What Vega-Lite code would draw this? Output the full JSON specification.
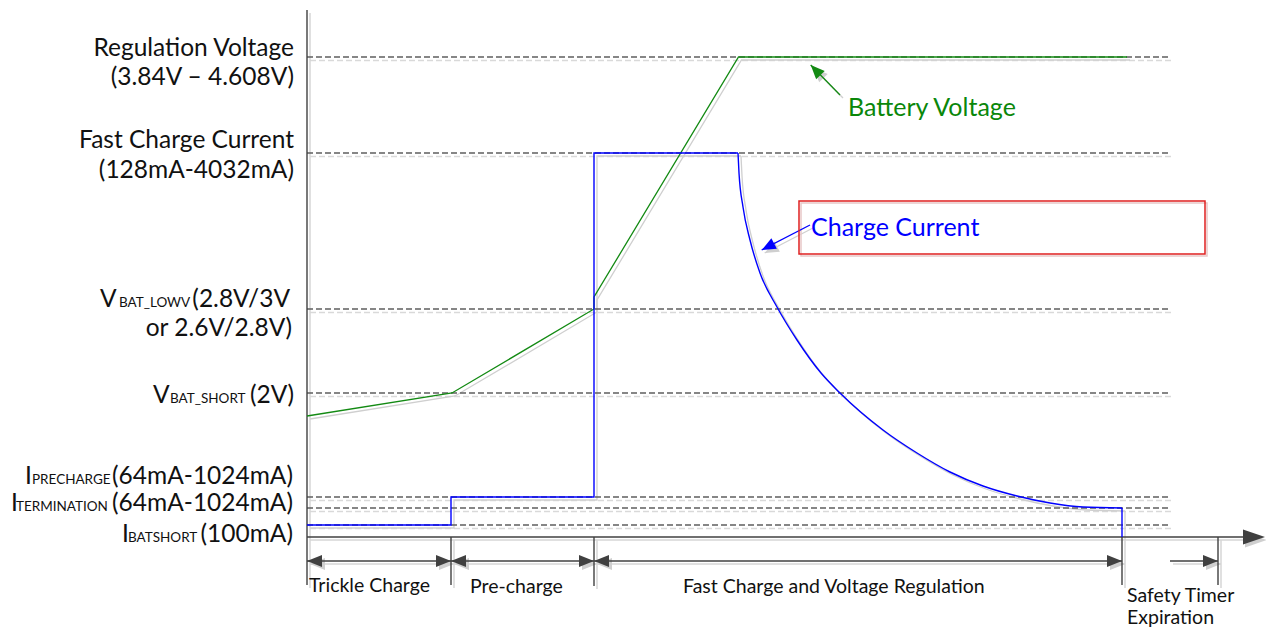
{
  "$schema": "https://vega.github.io/schema/vega-lite/v6.json",
  "width": 1266,
  "height": 629,
  "autosize": {"type": "none"},
  "padding": 0,
  "background": "white",
  "config": {"view": {"stroke": null}, "text": {"font": "Lato"}},
  "datasets": {
    "levels": [
      {"name": "Regulation Voltage", "t": 0, "t2": 861, "v": 480},
      {"name": "Fast Charge Current", "t": 0, "t2": 861, "v": 384},
      {"name": "VBAT_LOWV", "t": 0, "t2": 861, "v": 228},
      {"name": "VBAT_SHORT", "t": 0, "t2": 861, "v": 144},
      {"name": "IPRECHARGE", "t": 0, "t2": 861, "v": 40},
      {"name": "ITERMINATION", "t": 0, "t2": 861, "v": 29},
      {"name": "IBATSHORT", "t": 0, "t2": 861, "v": 12}
    ],
    "voltage": [
      {"i": 0, "t": 0, "v": 121},
      {"i": 1, "t": 145, "v": 144},
      {"i": 2, "t": 287, "v": 228},
      {"i": 3, "t": 287, "v": 240},
      {"i": 4, "t": 431.5, "v": 480},
      {"i": 5, "t": 820, "v": 480}
    ],
    "current": [
      {"part": "step", "i": 0, "t": 0, "v": 12},
      {"part": "step", "i": 1, "t": 144, "v": 12},
      {"part": "step", "i": 2, "t": 144, "v": 40},
      {"part": "step", "i": 3, "t": 287, "v": 40},
      {"part": "step", "i": 4, "t": 287, "v": 384},
      {"part": "step", "i": 5, "t": 431, "v": 384},
      {"part": "curve", "i": 6, "t": 431, "v": 384},
      {"part": "curve", "i": 7, "t": 432, "v": 364},
      {"part": "curve", "i": 8, "t": 436, "v": 330},
      {"part": "curve", "i": 9, "t": 443, "v": 297},
      {"part": "curve", "i": 10, "t": 453, "v": 264},
      {"part": "curve", "i": 11, "t": 470, "v": 230},
      {"part": "curve", "i": 12, "t": 490, "v": 197},
      {"part": "curve", "i": 13, "t": 514, "v": 164},
      {"part": "curve", "i": 14, "t": 533, "v": 144},
      {"part": "curve", "i": 15, "t": 576, "v": 107},
      {"part": "curve", "i": 16, "t": 610, "v": 84},
      {"part": "curve", "i": 17, "t": 643, "v": 65},
      {"part": "curve", "i": 18, "t": 676, "v": 51},
      {"part": "curve", "i": 19, "t": 710, "v": 41},
      {"part": "curve", "i": 20, "t": 743, "v": 34},
      {"part": "curve", "i": 21, "t": 776, "v": 30},
      {"part": "curve", "i": 22, "t": 815, "v": 29},
      {"part": "drop", "i": 23, "t": 815, "v": 29},
      {"part": "drop", "i": 24, "t": 815, "v": 0}
    ],
    "ticks": [
      {"t": 0, "v": 527, "v2": -48},
      {"t": 144, "v": 0, "v2": -48},
      {"t": 287, "v": 0, "v2": -49},
      {"t": 815, "v": 0, "v2": -48},
      {"t": 911, "v": 0, "v2": -48}
    ],
    "haxis": [{"t": 0, "t2": 940, "v": 0}],
    "haxisHead": [{"t": 958, "v": 0}],
    "dims": [
      {"t": 0, "t2": 144, "v": -24},
      {"t": 144, "t2": 287, "v": -24},
      {"t": 287, "t2": 815, "v": -24},
      {"t": 863, "t2": 911, "v": -24}
    ],
    "headsRight": [
      {"t": 144, "v": -24},
      {"t": 287, "v": -24},
      {"t": 815, "v": -24},
      {"t": 911, "v": -24}
    ],
    "headsLeft": [
      {"t": 0, "v": -24},
      {"t": 144, "v": -24},
      {"t": 287, "v": -24}
    ],
    "greenCallout": [{"t": 503.7, "v": 472, "t2": 533, "v2": 442}],
    "blueCallout": [{"t": 454.7, "v": 287, "t2": 503, "v2": 312}],
    "box": [{"t": 492, "t2": 898, "v": 336, "v2": 283}],
    "bigLabels": [
      {"text": "Regulation Voltage", "t": -13, "v": 481},
      {"text": "(3.84V – 4.608V)", "t": -13, "v": 452},
      {"text": "Fast Charge Current", "t": -13, "v": 389},
      {"text": "(128mA-4032mA)", "t": -13, "v": 359},
      {"text": "(2.8V/3V", "t": -17, "v": 230},
      {"text": "or 2.6V/2.8V)", "t": -15, "v": 201},
      {"text": "(2V)", "t": -13, "v": 134},
      {"text": "(64mA-1024mA)", "t": -14, "v": 53},
      {"text": "(64mA-1024mA)", "t": -14, "v": 26},
      {"text": "(100mA)", "t": -14, "v": -5}
    ],
    "bigLetters": [
      {"text": "V", "t": -207, "v": 230},
      {"text": "V", "t": -154, "v": 134},
      {"text": "I", "t": -282, "v": 53},
      {"text": "I", "t": -296, "v": 26},
      {"text": "I", "t": -185, "v": -5}
    ],
    "subLabels": [
      {"text": "BAT_LOWV", "t": -188, "v": 230},
      {"text": "BAT_SHORT", "t": -137, "v": 134},
      {"text": "PRECHARGE", "t": -275, "v": 53},
      {"text": "TERMINATION", "t": -291, "v": 26},
      {"text": "BATSHORT", "t": -179, "v": -5}
    ],
    "bottomLabels": [
      {"text": "Trickle Charge", "t": 2, "v": -55},
      {"text": "Pre-charge", "t": 163, "v": -56},
      {"text": "Fast Charge and Voltage Regulation", "t": 376, "v": -56},
      {"text": "Safety Timer", "t": 820, "v": -65},
      {"text": "Expiration", "t": 820, "v": -87}
    ],
    "greenText": [{"text": "Battery Voltage", "t": 541, "v": 421}],
    "blueText": [{"text": "Charge Current", "t": 504, "v": 301}]
  },
  "encoding": {
    "x": {"field": "t", "type": "quantitative", "scale": {"domain": [-307, 959], "nice": false, "zero": false}, "axis": null},
    "y": {"field": "v", "type": "quantitative", "scale": {"domain": [-92, 537], "nice": false, "zero": false}, "axis": null}
  },
  "layer": [
    {"data": {"name": "levels"}, "mark": {"type": "rule", "color": "#d9d9d9", "strokeWidth": 1.3, "strokeDash": [6, 3], "xOffset": 3, "x2Offset": 3, "yOffset": 3.5}, "encoding": {"x2": {"field": "t2"}}},
    {"data": {"name": "ticks"}, "mark": {"type": "rule", "color": "#d6d6d6", "strokeWidth": 1.5, "xOffset": 3, "yOffset": 3, "y2Offset": 3}, "encoding": {"y2": {"field": "v2"}}},
    {"data": {"name": "haxis"}, "mark": {"type": "rule", "color": "#d6d6d6", "strokeWidth": 1.5, "xOffset": 3, "x2Offset": 3, "yOffset": 3}, "encoding": {"x2": {"field": "t2"}}},
    {"data": {"name": "dims"}, "mark": {"type": "rule", "color": "#d6d6d6", "strokeWidth": 1.3, "xOffset": 3, "x2Offset": 3, "yOffset": 3}, "encoding": {"x2": {"field": "t2"}}},
    {"data": {"name": "voltage"}, "mark": {"type": "line", "color": "#cfcfcf", "strokeWidth": 1.3, "xOffset": 3, "yOffset": 3}, "encoding": {"order": {"field": "i"}}},
    {"data": {"name": "current"}, "transform": [{"filter": "datum.part !== 'curve'"}], "mark": {"type": "line", "color": "#cfcfcf", "strokeWidth": 1.3, "xOffset": 3, "yOffset": 3}, "encoding": {"order": {"field": "i"}, "detail": {"field": "part"}}},
    {"data": {"name": "current"}, "transform": [{"filter": "datum.part === 'curve'"}], "mark": {"type": "line", "color": "#cfcfcf", "strokeWidth": 1.3, "interpolate": "monotone", "xOffset": 3, "yOffset": 3}, "encoding": {"order": {"field": "i"}}},
    {"data": {"name": "greenCallout"}, "mark": {"type": "rule", "color": "#d0d0d0", "strokeWidth": 1.3, "xOffset": 3, "x2Offset": 3, "yOffset": 3, "y2Offset": 3}, "encoding": {"x2": {"field": "t2"}, "y2": {"field": "v2"}}},
    {"data": {"name": "blueCallout"}, "mark": {"type": "rule", "color": "#d0d0d0", "strokeWidth": 1.3, "xOffset": 3, "x2Offset": 3, "yOffset": 3, "y2Offset": 3}, "encoding": {"x2": {"field": "t2"}, "y2": {"field": "v2"}}},
    {"data": {"name": "box"}, "mark": {"type": "rect", "fillOpacity": 0, "stroke": "#e8c8c8", "strokeWidth": 1.5, "xOffset": 2, "x2Offset": 2, "yOffset": 2, "y2Offset": 2}, "encoding": {"x2": {"field": "t2"}, "y2": {"field": "v2"}}},
    {"data": {"name": "headsRight"}, "mark": {"type": "point", "filled": true, "color": "#cfcfcf", "opacity": 1, "shape": "M0,0L-2,-0.8L-2,0.8Z", "size": 225, "strokeWidth": 0, "xOffset": 3, "yOffset": 3}},
    {"data": {"name": "headsLeft"}, "mark": {"type": "point", "filled": true, "color": "#cfcfcf", "opacity": 1, "shape": "M0,0L2,-0.8L2,0.8Z", "size": 225, "strokeWidth": 0, "xOffset": 3, "yOffset": 3}},
    {"data": {"name": "haxisHead"}, "mark": {"type": "point", "filled": true, "color": "#cfcfcf", "opacity": 1, "shape": "M0,0L-2,-0.68L-2,0.68Z", "size": 484, "strokeWidth": 0, "xOffset": 2, "yOffset": 3}},
    {"data": {"name": "greenCallout"}, "mark": {"type": "point", "filled": true, "color": "#cfcfcf", "opacity": 1, "shape": "M0,0L-2,-0.85L-2,0.85Z", "size": 196, "angle": 226, "strokeWidth": 0, "xOffset": 3, "yOffset": 3}},
    {"data": {"name": "blueCallout"}, "mark": {"type": "point", "filled": true, "color": "#cfcfcf", "opacity": 1, "shape": "M0,0L-2,-0.85L-2,0.85Z", "size": 196, "angle": 152.6, "strokeWidth": 0, "xOffset": 3, "yOffset": 3}},

    {"data": {"name": "levels"}, "mark": {"type": "rule", "color": "#5f5f5f", "strokeWidth": 1.3, "strokeDash": [6, 3]}, "encoding": {"x2": {"field": "t2"}}},
    {"data": {"name": "ticks"}, "mark": {"type": "rule", "color": "#404040", "strokeWidth": 1.4}, "encoding": {"y2": {"field": "v2"}}},
    {"data": {"name": "haxis"}, "mark": {"type": "rule", "color": "#404040", "strokeWidth": 1.5}, "encoding": {"x2": {"field": "t2"}}},
    {"data": {"name": "dims"}, "mark": {"type": "rule", "color": "#404040", "strokeWidth": 1.3}, "encoding": {"x2": {"field": "t2"}}},
    {"data": {"name": "headsRight"}, "mark": {"type": "point", "filled": true, "color": "#404040", "opacity": 1, "shape": "M0,0L-2,-0.8L-2,0.8Z", "size": 225, "strokeWidth": 0}},
    {"data": {"name": "headsLeft"}, "mark": {"type": "point", "filled": true, "color": "#404040", "opacity": 1, "shape": "M0,0L2,-0.8L2,0.8Z", "size": 225, "strokeWidth": 0}},
    {"data": {"name": "haxisHead"}, "mark": {"type": "point", "filled": true, "color": "#404040", "opacity": 1, "shape": "M0,0L-2,-0.68L-2,0.68Z", "size": 484, "strokeWidth": 0}},
    {"data": {"name": "voltage"}, "mark": {"type": "line", "color": "#138a13", "strokeWidth": 1.3}, "encoding": {"order": {"field": "i"}}},
    {"data": {"name": "current"}, "transform": [{"filter": "datum.part !== 'curve'"}], "mark": {"type": "line", "color": "#0000ff", "strokeWidth": 1.4}, "encoding": {"order": {"field": "i"}, "detail": {"field": "part"}}},
    {"data": {"name": "current"}, "transform": [{"filter": "datum.part === 'curve'"}], "mark": {"type": "line", "color": "#0000ff", "strokeWidth": 1.4, "interpolate": "monotone"}, "encoding": {"order": {"field": "i"}}},
    {"data": {"name": "greenCallout"}, "mark": {"type": "rule", "color": "#138a13", "strokeWidth": 1.3}, "encoding": {"x2": {"field": "t2"}, "y2": {"field": "v2"}}},
    {"data": {"name": "blueCallout"}, "mark": {"type": "rule", "color": "#0000ff", "strokeWidth": 1.3}, "encoding": {"x2": {"field": "t2"}, "y2": {"field": "v2"}}},
    {"data": {"name": "greenCallout"}, "mark": {"type": "point", "filled": true, "color": "#138a13", "opacity": 1, "shape": "M0,0L-2,-0.85L-2,0.85Z", "size": 196, "angle": 226, "strokeWidth": 0}},
    {"data": {"name": "blueCallout"}, "mark": {"type": "point", "filled": true, "color": "#0000ff", "opacity": 1, "shape": "M0,0L-2,-0.85L-2,0.85Z", "size": 196, "angle": 152.6, "strokeWidth": 0}},
    {"data": {"name": "box"}, "mark": {"type": "rect", "fillOpacity": 0, "stroke": "#e02020", "strokeWidth": 1.5}, "encoding": {"x2": {"field": "t2"}, "y2": {"field": "v2"}}},

    {"data": {"name": "bigLabels"}, "mark": {"type": "text", "align": "right", "baseline": "alphabetic", "fontSize": 24.5, "color": "#111111"}, "encoding": {"text": {"field": "text"}}},
    {"data": {"name": "bigLetters"}, "mark": {"type": "text", "align": "left", "baseline": "alphabetic", "fontSize": 24.5, "color": "#111111"}, "encoding": {"text": {"field": "text"}}},
    {"data": {"name": "subLabels"}, "mark": {"type": "text", "align": "left", "baseline": "alphabetic", "fontSize": 13.5, "color": "#111111"}, "encoding": {"text": {"field": "text"}}},
    {"data": {"name": "bottomLabels"}, "mark": {"type": "text", "align": "left", "baseline": "alphabetic", "fontSize": 19.5, "color": "#111111"}, "encoding": {"text": {"field": "text"}}},
    {"data": {"name": "greenText"}, "mark": {"type": "text", "align": "left", "baseline": "alphabetic", "fontSize": 25, "color": "#0a870a"}, "encoding": {"text": {"field": "text"}}},
    {"data": {"name": "blueText"}, "mark": {"type": "text", "align": "left", "baseline": "alphabetic", "fontSize": 25, "color": "#0000ff"}, "encoding": {"text": {"field": "text"}}}
  ]
}
